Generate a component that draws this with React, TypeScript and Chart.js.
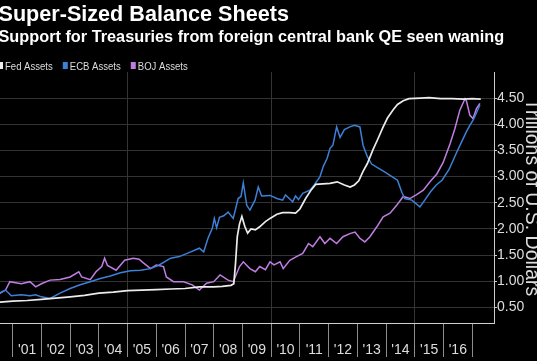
import { useEffect, useRef } from 'react';
import { Chart, registerables } from 'chart.js';

Chart.register(...registerables);

const titleText = 'Super-Sized Balance Sheets';
const subtitleText = 'Support for Treasuries from foreign central bank QE seen waning';
const axisTitleText = 'Trillions of U.S. Dollars';

const seriesNames = ['Fed Assets', 'ECB Assets', 'BOJ Assets'];
const seriesColors = ['#ececec', '#3d80d8', '#c07ee0'];

const fedYears = [2000.0, 2000.56, 2001.0, 2001.5, 2002.0, 2002.4, 2003.0, 2003.5, 2004.0, 2004.5, 2005.0, 2005.5, 2006.0, 2006.5, 2007.0, 2007.5, 2008.0, 2008.3, 2008.6, 2008.7, 2008.76, 2008.82, 2008.9, 2008.98, 2009.08, 2009.18, 2009.3, 2009.45, 2009.6, 2009.8, 2009.96, 2010.2, 2010.4, 2010.65, 2010.85, 2011.0, 2011.2, 2011.4, 2011.55, 2011.8, 2012.05, 2012.3, 2012.55, 2012.75, 2012.9, 2013.05, 2013.2, 2013.35, 2013.55, 2013.7, 2013.9, 2014.05, 2014.25, 2014.4, 2014.6, 2014.8, 2015.2, 2015.5, 2015.9, 2016.3, 2016.7, 2017.0, 2017.3];
const fedValues = [0.58, 0.60, 0.62, 0.63, 0.65, 0.67, 0.70, 0.73, 0.77, 0.79, 0.82, 0.83, 0.84, 0.85, 0.86, 0.89, 0.89, 0.90, 0.92, 0.95, 1.35, 1.85, 2.10, 2.24, 2.05, 1.92, 2.00, 1.98, 2.04, 2.14, 2.20, 2.28, 2.31, 2.31, 2.30, 2.38, 2.58, 2.75, 2.85, 2.86, 2.87, 2.90, 2.84, 2.80, 2.84, 2.92, 3.10, 3.25, 3.52, 3.70, 3.95, 4.12, 4.28, 4.38, 4.45, 4.49, 4.50, 4.51, 4.49, 4.49, 4.48, 4.49, 4.48];

const ecbYears = [2000.0, 2000.3, 2000.56, 2000.75, 2000.95, 2001.3, 2001.6, 2001.8, 2002.0, 2002.3, 2002.65, 2003.0, 2003.35, 2003.7, 2004.05, 2004.4, 2004.75, 2005.1, 2005.45, 2005.8, 2006.1, 2006.5, 2006.8, 2007.2, 2007.5, 2007.65, 2007.8, 2007.95, 2008.02, 2008.1, 2008.2, 2008.35, 2008.5, 2008.68, 2008.85, 2008.95, 2009.03, 2009.15, 2009.26, 2009.44, 2009.55, 2009.67, 2009.96, 2010.2, 2010.4, 2010.5, 2010.75, 2010.85, 2010.95, 2011.1, 2011.35, 2011.5, 2011.7, 2011.82, 2011.95, 2012.05, 2012.15, 2012.28, 2012.4, 2012.55, 2012.74, 2012.9, 2013.09, 2013.2, 2013.35, 2013.5, 2013.7, 2013.95, 2014.15, 2014.4, 2014.55, 2014.65, 2014.9, 2015.18, 2015.35, 2015.55, 2015.75, 2015.95, 2016.2, 2016.45, 2016.62, 2016.8, 2016.92, 2017.05, 2017.15, 2017.27];
const ecbValues = [0.82, 0.80, 0.78, 0.83, 0.72, 0.74, 0.72, 0.74, 0.70, 0.67, 0.77, 0.86, 0.93, 0.99, 1.05, 1.10, 1.16, 1.20, 1.21, 1.24, 1.31, 1.44, 1.47, 1.56, 1.63, 1.56, 1.82, 2.01, 2.20, 2.02, 2.22, 2.25, 2.32, 2.20, 2.58, 2.62, 2.88, 2.45, 2.36, 2.55, 2.80, 2.63, 2.64, 2.58, 2.55, 2.65, 2.52, 2.63, 2.56, 2.68, 2.74, 2.84, 3.00, 3.20, 3.35, 3.54, 3.60, 3.95, 3.75, 3.90, 3.95, 3.98, 3.95, 3.60, 3.38, 3.24, 3.17, 3.09, 3.02, 2.93, 2.70, 2.58, 2.55, 2.42, 2.55, 2.71, 2.84, 2.93, 3.14, 3.45, 3.65, 3.86, 3.98, 4.10, 4.22, 4.37];

const bojYears = [2000.0, 2000.56, 2000.75, 2000.9, 2001.1, 2001.3, 2001.6, 2001.8, 2002.0, 2002.3, 2002.65, 2003.0, 2003.3, 2003.4, 2003.7, 2003.9, 2004.1, 2004.2, 2004.3, 2004.6, 2004.9, 2005.2, 2005.4, 2005.55, 2005.8, 2006.0, 2006.25, 2006.35, 2006.6, 2006.95, 2007.25, 2007.5, 2007.75, 2008.0, 2008.22, 2008.5, 2008.68, 2008.9, 2009.03, 2009.26, 2009.45, 2009.6, 2009.8, 2009.96, 2010.1, 2010.31, 2010.42, 2010.65, 2010.88, 2011.1, 2011.3, 2011.45, 2011.7, 2011.87, 2012.05, 2012.28, 2012.5, 2012.74, 2012.92, 2013.09, 2013.26, 2013.44, 2013.68, 2013.9, 2014.14, 2014.37, 2014.6, 2014.83, 2015.05, 2015.3, 2015.53, 2015.77, 2015.99, 2016.23, 2016.4, 2016.57, 2016.75, 2016.8, 2016.92, 2017.03, 2017.15, 2017.27];
const bojValues = [0.75, 0.77, 0.83, 0.99, 0.97, 0.95, 0.99, 0.89, 0.95, 1.02, 1.03, 1.08, 1.18, 1.08, 1.03, 1.18, 1.28, 1.44, 1.30, 1.21, 1.40, 1.44, 1.42, 1.35, 1.24, 1.31, 1.28, 1.08, 0.99, 0.99, 0.93, 0.83, 0.96, 0.99, 1.12, 1.02, 0.99, 1.28, 1.37, 1.24, 1.18, 1.28, 1.22, 1.37, 1.31, 1.37, 1.24, 1.40, 1.47, 1.53, 1.72, 1.66, 1.85, 1.72, 1.82, 1.72, 1.85, 1.91, 1.94, 1.82, 1.75, 1.85, 2.04, 2.23, 2.30, 2.45, 2.62, 2.58, 2.65, 2.74, 2.90, 3.05, 3.27, 3.63, 3.92, 4.27, 4.49, 4.45, 4.17, 4.11, 4.30, 4.40];

const yTickValues = [0.5, 1.0, 1.5, 2.0, 2.5, 3.0, 3.5, 4.0, 4.5];
const xTickYears = [2001, 2002, 2003, 2004, 2005, 2006, 2007, 2008, 2009, 2010, 2011, 2012, 2013, 2014, 2015, 2016, 2017];
const lastLabelledYear = 2016;

const FONT = '"Liberation Sans", Arial, sans-serif';
const SHIFT = 16;

export default function App() {
  const ref = useRef<HTMLCanvasElement | null>(null);

  useEffect(() => {
    document.body.style.margin = '0';
    document.body.style.background = '#000';
    const canvas = ref.current;
    if (!canvas) return;

    const pts = (xs: number[], ys: number[]) => xs.map((x, i) => ({ x, y: ys[i] }));

    const headerPlugin = {
      id: 'header',
      beforeDraw(chart: any) {
        const c = chart.ctx;
        c.save();
        c.fillStyle = '#000';
        c.fillRect(0, 0, chart.width, chart.height);
        c.restore();
      },
      afterDraw(chart: any) {
        const c = chart.ctx;
        c.save();
        c.textAlign = 'left';
        c.textBaseline = 'alphabetic';
        c.fillStyle = '#ffffff';
        c.font = `bold 21.6px ${FONT}`;
        c.fillText(titleText, SHIFT - 1.5, 21);
        c.font = `bold 16.3px ${FONT}`;
        c.fillText(subtitleText, SHIFT - 1.5, 42);
        c.font = `10.5px ${FONT}`;
        let x = SHIFT - 2;
        chart.data.datasets.forEach((ds: any) => {
          c.fillStyle = ds.borderColor;
          c.fillRect(x, 62, 5, 7);
          x += 7;
          c.save();
          c.translate(x, 69.5);
          c.scale(0.91, 1);
          c.fillStyle = '#dddddd';
          c.fillText(ds.label, 0, 0);
          c.restore();
          x += c.measureText(ds.label).width * 0.91 + 10;
        });
        c.restore();
      },
    };

    const chart = new Chart(canvas, {
      type: 'line',
      data: {
        datasets: [
          { label: seriesNames[0], data: pts(fedYears, fedValues), borderColor: seriesColors[0], backgroundColor: seriesColors[0], borderWidth: 1.7, pointRadius: 0, tension: 0 },
          { label: seriesNames[1], data: pts(ecbYears, ecbValues), borderColor: seriesColors[1], backgroundColor: seriesColors[1], borderWidth: 1.5, pointRadius: 0, tension: 0 },
          { label: seriesNames[2], data: pts(bojYears, bojValues), borderColor: seriesColors[2], backgroundColor: seriesColors[2], borderWidth: 1.5, pointRadius: 0, tension: 0 },
        ],
      },
      options: {
        responsive: false,
        animation: false,
        devicePixelRatio: 1,
        layout: { padding: { top: 72, left: 0, right: 0, bottom: 0 } },
        plugins: {
          legend: { display: false },
          title: { display: false },
          tooltip: { enabled: false },
        },
        scales: {
          x: {
            type: 'linear',
            min: 2000,
            max: 2017.76,
            afterBuildTicks: (s: any) => {
              s.ticks = xTickYears.map((v) => ({ value: v }));
            },
            afterFit: (s: any) => {
              s.height = 38;
            },
            grid: {
              color: (ctx: any) => (ctx.tick && ctx.tick.value % 5 === 0 ? '#343434' : 'rgba(0,0,0,0)'),
              tickColor: '#8c8c8c',
              tickLength: 34,
              lineWidth: 1,
            },
            border: { display: true, color: '#cfcfcf', width: 1 },
            ticks: {
              color: '#dddddd',
              font: { family: FONT, size: 14 },
              padding: -15,
              labelOffset: 14.36,
              maxRotation: 0,
              autoSkip: false,
              callback: (v: any) => (Number(v) <= lastLabelledYear ? "'" + String(Number(v) % 100).padStart(2, '0') : ''),
            },
          },
          y: {
            type: 'linear',
            position: 'right',
            min: 0.2,
            max: 5.0,
            afterBuildTicks: (s: any) => {
              s.ticks = yTickValues.map((v) => ({ value: v }));
            },
            afterFit: (s: any) => {
              s.width = 53;
            },
            grid: { color: '#333333', tickColor: '#cccccc', tickLength: 3 },
            border: { display: true, color: '#cccccc', width: 1 },
            ticks: {
              color: '#dddddd',
              font: { family: FONT, size: 14 },
              padding: 0,
              callback: (v: any) => Number(v).toFixed(2),
            },
            title: {
              display: true,
              text: axisTitleText,
              color: '#dddddd',
              font: { family: FONT, size: 19.5 },
              padding: { top: 4, bottom: 4 },
            },
          },
        },
      } as any,
      plugins: [headerPlugin],
    });

    return () => {
      chart.destroy();
    };
  }, []);

  return (
    <div style={{ position: 'relative', width: 537, height: 361, overflow: 'hidden', background: '#000' }}>
      <canvas
        ref={ref}
        width={563}
        height={361}
        style={{ position: 'absolute', left: -SHIFT, top: 0, display: 'block' }}
      />
    </div>
  );
}
